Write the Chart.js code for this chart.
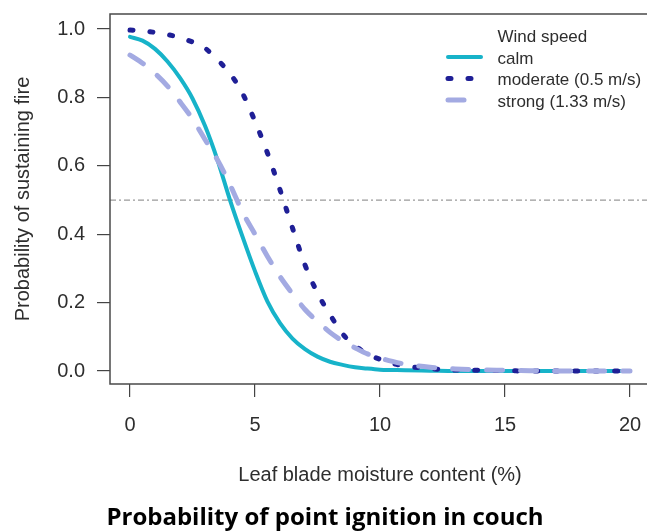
<!DOCTYPE html>
<html><head><meta charset="utf-8">
<script src="https://cdn.jsdelivr.net/npm/chart.js@4/dist/chart.umd.min.js"></script>
<style>
html,body{margin:0;padding:0;background:#fff;overflow:hidden;width:647px;height:532px;}
#wrap{position:absolute;left:0;top:0;width:660px;height:532px;}
</style></head><body>
<div id="wrap"><canvas id="c" width="660" height="532"></canvas></div>
<script>
// ---- data ----
const moisture = [0,0.5,1,1.5,2,2.5,3,3.5,4,4.5,5,5.5,6,6.5,7,7.5,8,8.5,9,9.5,10,10.5,11,12,13,14,15,16,17,18,19,20];
const calm     = [0.977,0.966,0.942,0.905,0.857,0.797,0.717,0.617,0.50,0.393,0.292,0.203,0.14,0.095,0.064,0.042,0.027,0.018,0.011,0.007,0.004,0.003,0.002,0.001,0,0,0,0,0,0,0,0];
const moderate = [0.997,0.995,0.99,0.984,0.975,0.962,0.944,0.91,0.87,0.812,0.73,0.637,0.53,0.418,0.31,0.228,0.165,0.109,0.074,0.05,0.034,0.022,0.015,0.007,0.003,0.002,0.001,0,0,0,0,0];
const strong   = [0.924,0.9,0.87,0.833,0.787,0.737,0.677,0.617,0.545,0.465,0.40,0.335,0.276,0.226,0.18,0.145,0.113,0.088,0.068,0.05,0.038,0.028,0.02,0.011,0.006,0.003,0.002,0.001,0,0,0,0];
const seriesLabels = ['calm','moderate (0.5 m/s)','strong (1.33 m/s)'];
const legendTitle = 'Wind speed';
const thresholdY = 0.5;
const xTickValues = [0,5,10,15,20];
const xTickLabels = ['0','5','10','15','20'];
const yTickValues = [0,0.2,0.4,0.6,0.8,1.0];
const yTickLabels = ['0.0','0.2','0.4','0.6','0.8','1.0'];
const xAxisTitle = 'Leaf blade moisture content (%)';
const yAxisTitle = 'Probability of sustaining fire';
const chartTitle = 'Probability of point ignition in couch';
const xMin = -0.8, xMax = 20.8, yMin = -0.038, yMax = 1.044;

const pts = arr => moisture.map((x,i)=>({x:x,y:arr[i]}));

Chart.defaults.font.family = "'Liberation Sans', Arial, sans-serif";
Chart.defaults.color = '#2e2e2e';

const styles = [
  {color:'#17b3c9', width:4, dash:[], cap:'round'},
  {color:'#1f1f96', width:5, dash:[3,17], cap:'round'},
  {color:'#a3aae2', width:5, dash:[16,18], cap:'round'}
];

const framePlugin = {
  id:'frameAndLegend',
  afterDatasetsDraw(chart){
    const {ctx, chartArea:a} = chart;
    ctx.save();
    ctx.strokeStyle = '#4a4a4a';
    ctx.lineWidth = 1.5;
    ctx.beginPath();
    ctx.moveTo(a.right, a.top);
    ctx.lineTo(a.left, a.top);
    ctx.lineTo(a.left, a.bottom);
    ctx.lineTo(a.right, a.bottom);
    ctx.stroke();
    ctx.restore();
  },
  afterDraw(chart){
    const ctx = chart.ctx;
    ctx.save();
    ctx.font = "17px 'Liberation Sans', Arial, sans-serif";
    ctx.fillStyle = '#2e2e2e';
    ctx.textBaseline = 'alphabetic';
    ctx.textAlign = 'left';
    const tx = 497.5, sx0 = 448, sx1 = 481;
    ctx.fillText(legendTitle, tx, 42);
    seriesLabels.forEach((lab,i)=>{
      const base = 63.5 + i*21.5;
      const st = styles[i];
      ctx.save();
      ctx.strokeStyle = st.color;
      ctx.lineWidth = st.width;
      ctx.lineCap = st.cap;
      ctx.setLineDash(st.dash);
      ctx.beginPath();
      ctx.moveTo(sx0, base-6.5);
      ctx.lineTo(sx1, base-6.5);
      ctx.stroke();
      ctx.restore();
      ctx.fillText(lab, tx, base);
    });
    ctx.restore();
  }
};

const mkDataset = (arr,i,order) => ({
  label: seriesLabels[i],
  data: pts(arr),
  borderColor: styles[i].color,
  borderWidth: styles[i].width,
  borderDash: styles[i].dash,
  borderCapStyle: styles[i].cap,
  borderJoinStyle: 'round',
  pointRadius: 0,
  fill: false,
  cubicInterpolationMode: 'monotone',
  order: order
});

new Chart(document.getElementById('c'), {
  type: 'line',
  data: {
    datasets: [
      {label:'threshold', data:[{x:xMin,y:thresholdY},{x:xMax,y:thresholdY}], borderColor:'#9a9a9a', borderWidth:1.3, borderDash:[6,3,2,3], pointRadius:0, fill:false, order:10},
      mkDataset(calm,0,3),
      mkDataset(moderate,1,2),
      mkDataset(strong,2,1)
    ]
  },
  options: {
    responsive: false,
    animation: false,
    devicePixelRatio: 1,
    layout: {padding: {top:14, left:0, right:10, bottom:0}},
    plugins: {
      legend: {display:false},
      tooltip: {enabled:false},
      title: {
        display: true, position: 'bottom', text: chartTitle, color: '#000',
        font: {family:"'Open Sans', Lato, sans-serif", size:24, weight:'bold', lineHeight:1.15},
        padding: {top:0, bottom:0}
      }
    },
    scales: {
      x: {
        type: 'linear', min: xMin, max: xMax,
        afterBuildTicks: s => { s.ticks = xTickValues.map(v=>({value:v})); },
        afterFit: s => { s.height = 120.4; s.paddingLeft = 0; s.paddingRight = 0; },
        ticks: {
          callback: (v) => xTickLabels[xTickValues.indexOf(v)],
          font: {size:20}, color:'#2e2e2e', padding:16, maxRotation:0, autoSkip:false
        },
        grid: {drawOnChartArea:false, drawTicks:true, tickLength:13, color:'#444', lineWidth:1.2},
        border: {display:false},
        title: {display:true, text:xAxisTitle, color:'#2e2e2e', font:{size:20, lineHeight:1.2}, padding:{top:0, bottom:16.9}}
      },
      y: {
        type: 'linear', min: yMin, max: yMax,
        afterBuildTicks: s => { s.ticks = yTickValues.map(v=>({value:v})); },
        afterFit: s => { s.width = 110; s.paddingTop = 0; s.paddingBottom = 0; },
        ticks: {
          callback: (v) => yTickLabels[yTickValues.indexOf(v)],
          font: {size:20}, color:'#2e2e2e', padding:12, autoSkip:false
        },
        grid: {drawOnChartArea:false, drawTicks:true, tickLength:13, color:'#444', lineWidth:1.2},
        border: {display:false},
        title: {display:true, text:yAxisTitle, color:'#2e2e2e', font:{size:20, lineHeight:1.2}, padding:{top:11, bottom:0}}
      }
    }
  },
  plugins: [framePlugin]
});
</script>
</body></html>
